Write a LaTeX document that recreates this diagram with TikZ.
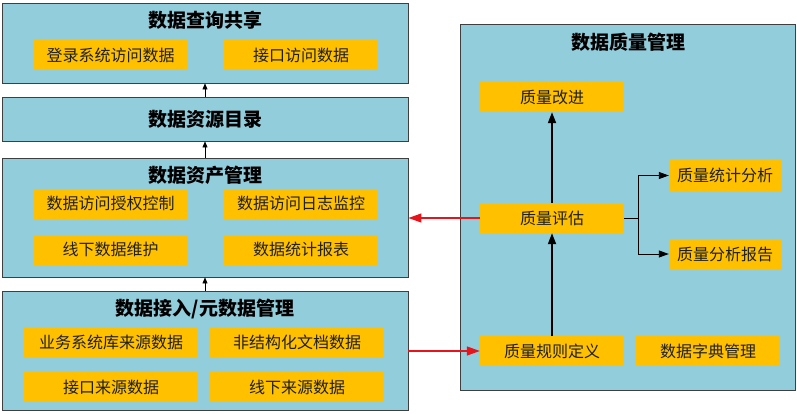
\documentclass[tikz,border=0pt]{standalone}
\usepackage{fontspec}
\newfontfamily\cjk{Noto Sans CJK SC}
\usepackage{tikz}
\usetikzlibrary{arrows.meta}
\definecolor{layerblue}{HTML}{92CDDC}
\definecolor{itemorange}{HTML}{FFC000}
\definecolor{edgegray}{HTML}{3F3F3F}
\definecolor{flowred}{HTML}{E8141C}
\definecolor{inktext}{HTML}{202020}

\begin{document}
\begin{tikzpicture}[x=1pt,y=-1pt,font=\cjk\fontsize{16}{19}\selectfont,
  layer/.style={draw=edgegray,line width=0.9pt,fill=layerblue,inner sep=0pt},
  item/.style={fill=itemorange,text=inktext,inner sep=0pt,minimum height=30pt},
  ttl/.style={font=\cjk\bfseries\fontsize{19}{22}\selectfont},
  up/.style={-{Triangle[length=6pt,width=5pt]},line width=0.6pt},
  flow/.style={-{Triangle[length=11pt,width=8pt]},line width=1.8pt},
  link/.style={-{Triangle[length=10pt,width=7pt]},line width=0.9pt},
  hint/.style={-{Triangle[length=13pt,width=9pt]},flowred,line width=1.3pt}]
  \useasboundingbox (0,0) rectangle (797,414);
  % left
  \node[layer,minimum width=406pt,minimum height=80pt] (share) at (205,43) {};
  \node[layer,minimum width=406pt,minimum height=44pt] (catalog) at (205,119) {};
  \node[layer,minimum width=406pt,minimum height=119pt] (asset) at (205,217.5) {};
  \node[layer,minimum width=406pt,minimum height=119pt] (access) at (205,351) {};
  \node[ttl] (shareT) at (205,20) {数据查询共享};
  \node[ttl] (catalogT) at (205,119) {数据资源目录};
  \node[ttl] (assetT) at (205,175) {数据资产管理};
  \node[ttl] (accessT) at (205,309) {数据接入/元数据管理};
  \foreach \nm/\x/\y/\w/\t in {login/110.5/55/153/登录系统访问数据,api/301/55/154/接口访问数据,
      grant/110.5/203.5/153/数据访问授权控制,logmon/301/203.5/154/数据访问日志监控,
      offmaint/110.5/249.5/153/线下数据维护,report/301/249.5/154/数据统计报表,
      biz/111/342/174/业务系统库来源数据,doc/297/342/174/非结构化文档数据,
      apisrc/111/387/174/接口来源数据,offsrc/297/387/174/线下来源数据}
    \node[item,minimum width=\w pt] (\nm) at (\x,\y) {\t};
  \draw[up] (access.north) -- (asset.south);
  \draw[up] (asset.north) -- (catalog.south);
  \draw[up] (catalog.north) -- (share.south);
  % right
  \node[layer,minimum width=335pt,minimum height=366pt] (quality) at (627.5,207) {};
  \node[ttl] (qualityT) at (628,42) {数据质量管理};
  \node[item,minimum width=144pt] (improve) at (552,97) {质量改进};
  \node[item,minimum width=144pt] (eval) at (552,218) {质量评估};
  \node[item,minimum width=144pt] (rule) at (552,351) {质量规则定义};
  \node[item,minimum width=144pt] (dict) at (708,351) {数据字典管理};
  \node[item,minimum width=112pt,minimum height=31pt] (stat) at (725,175.5) {质量统计分析};
  \node[item,minimum width=112pt] (qreport) at (725,254) {质量分析报告};
  \draw[flow] (rule.north) -- (eval.south);
  \draw[flow] (eval.north) -- (improve.south);
  \coordinate (fork) at (638,218);
  \draw[line width=0.9pt] (eval.east) -- (fork);
  \draw[link] (fork) |- (stat.west);
  \draw[link] (fork) |- (qreport.west);
  % between
  \draw[hint] (eval.west) -- (eval.west -| asset.east);
  \draw[hint] (access.east) -- (rule.west);
\end{tikzpicture}
\end{document}
